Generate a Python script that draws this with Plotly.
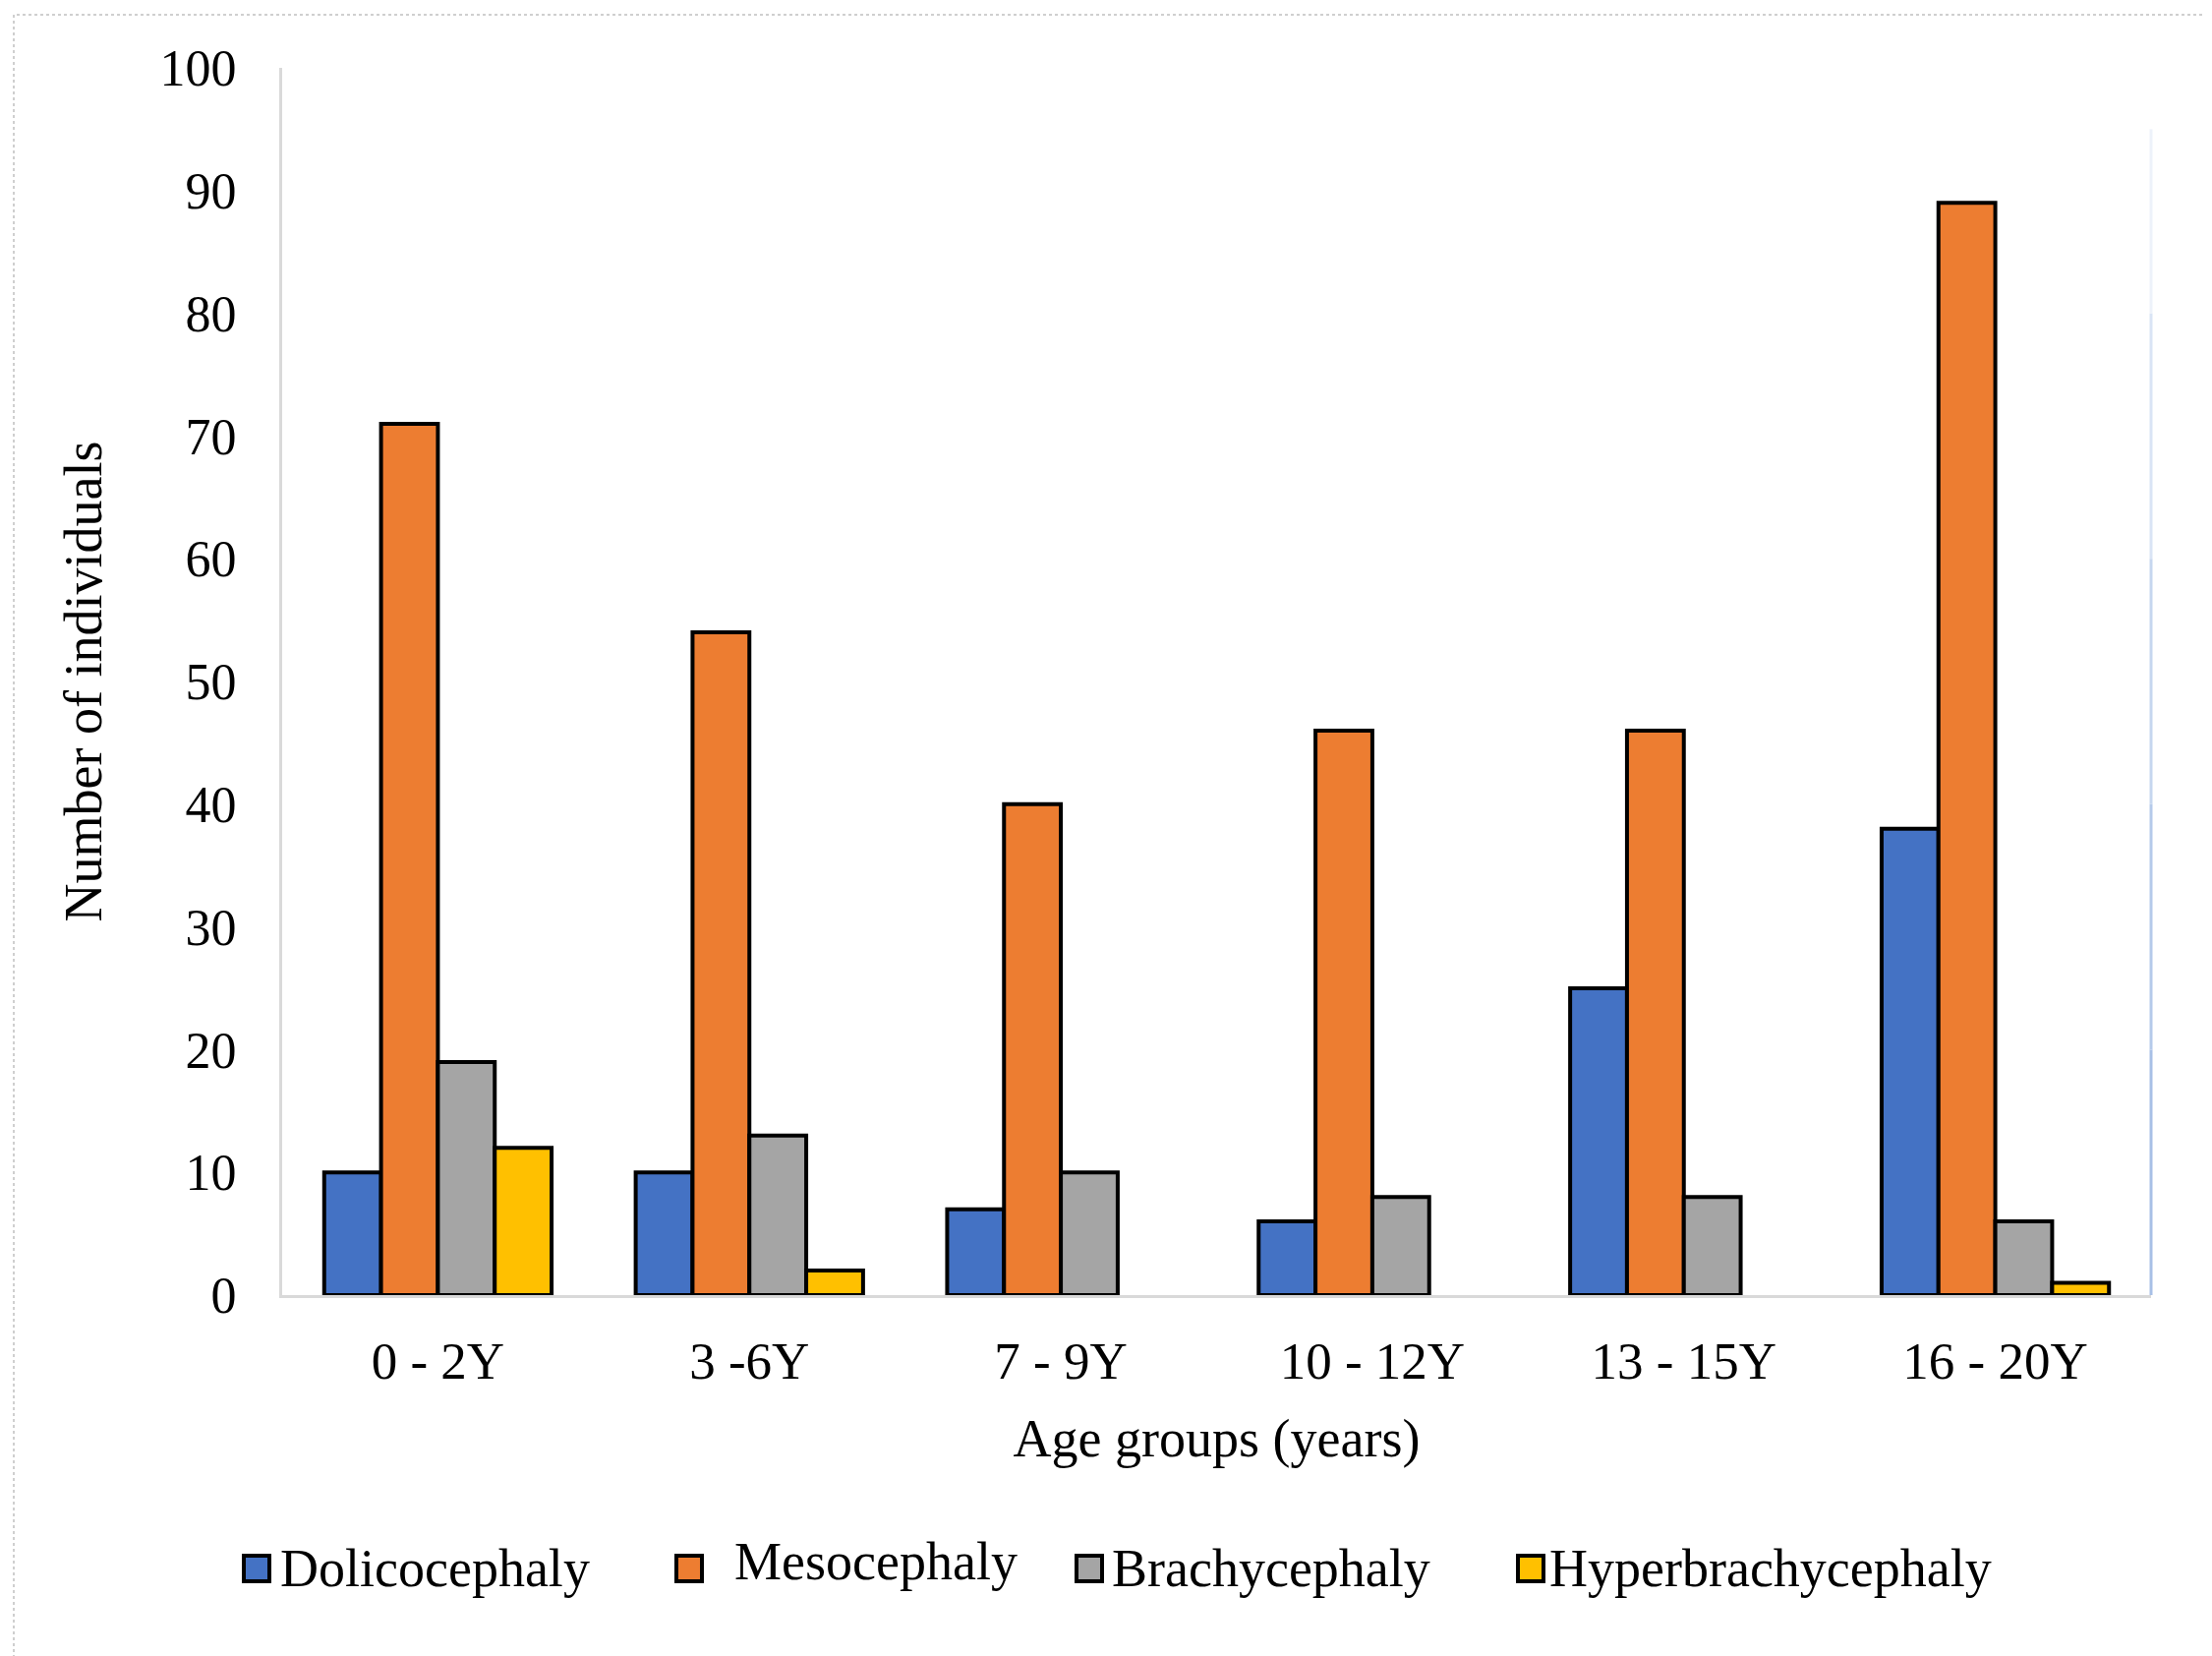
import plotly.graph_objects as go

categories = ["0 - 2Y", "3 -6Y", "7 - 9Y", "10 - 12Y", "13 - 15Y", "16 - 20Y"]
series_names = ["Dolicocephaly", "Mesocephaly", "Brachycephaly", "Hyperbrachycephaly"]
dolicocephaly = [10, 10, 7, 6, 25, 38]
mesocephaly = [71, 54, 40, 46, 46, 89]
brachycephaly = [19, 13, 10, 8, 8, 6]
hyperbrachycephaly = [12, 2, 0, 0, 0, 1]
y_ticks = [0, 10, 20, 30, 40, 50, 60, 70, 80, 90, 100]

colors = ["#4472C4", "#ED7D31", "#A5A5A5", "#FFC000"]
values = [dolicocephaly, mesocephaly, brachycephaly, hyperbrachycephaly]

FONT = "Liberation Serif, Times New Roman, serif"

W, H = 2250, 1684
L, R, T, B = 279, 70, 61, 375
pw, ph = W - L - R, H - T - B


def px_x(px):
    return (px - L) / pw


def px_y(py):
    return (H - B - py) / ph


fig = go.Figure()
for name, vals, col in zip(series_names, values, colors):
    fig.add_trace(go.Bar(
        x=categories, y=vals, name=name, showlegend=False,
        marker=dict(color=col,
                    line=dict(color="black", width=[4 if v > 0 else 0 for v in vals])),
    ))

fig.update_layout(
    width=W, height=H,
    margin=dict(l=L, r=R, t=T, b=B),
    paper_bgcolor="white", plot_bgcolor="white",
    font=dict(family=FONT, size=53, color="black"),
    barmode="group", bargap=0.27, bargroupgap=0,
    showlegend=False,
    xaxis=dict(
        type="category", range=[-0.5, 5.5],
        showline=True, linecolor="#D9D9D9", linewidth=3,
        ticks="", showgrid=False, zeroline=False,
        tickfont=dict(family=FONT, size=53),
        ticklabelstandoff=18,
        title=dict(text="Age groups (years)", font=dict(family=FONT, size=54), standoff=32),
    ),
    yaxis=dict(
        range=[0, 100], tickvals=y_ticks,
        showline=True, linecolor="#D9D9D9", linewidth=3,
        ticks="", showgrid=False, zeroline=False,
        tickfont=dict(family=FONT, size=52),
        ticklabelstandoff=33,
        title=dict(text="Number of individuals", font=dict(family=FONT, size=54), standoff=42),
    ),
)

# legend (swatch + label) below the chart
swatch_left = [240, 680, 1087, 1536]
text_left = [275, 737, 1121, 1566]
text_dy = [0, -7, 0, 0]
legend_y = 1587
sw = 26
for name, col, sx, tx, dy in zip(series_names, colors, swatch_left, text_left, text_dy):
    fig.add_shape(type="rect", xref="paper", yref="paper",
                  x0=px_x(sx), x1=px_x(sx + sw),
                  y0=px_y(legend_y + sw / 2), y1=px_y(legend_y - sw / 2),
                  fillcolor=col, line=dict(color="black", width=4))
    fig.add_annotation(text=name, xref="paper", yref="paper",
                       x=px_x(tx), y=px_y(legend_y + dy), xanchor="left", yanchor="middle",
                       showarrow=False, font=dict(family=FONT, size=54, color="black"))

# light blue right edge line of the plot area, fading towards the top
edge_segments = [(0.0, 0.2, "#A8C0E6"), (0.2, 0.4, "#B5CAEA"), (0.4, 0.6, "#C6D6EF"),
                 (0.6, 0.8, "#D9E4F5"), (0.8, 0.95, "#EDF2FA")]
for ya, yb, c in edge_segments:
    fig.add_shape(type="line", xref="paper", yref="paper", x0=1, x1=1, y0=ya, y1=yb,
                  line=dict(color=c, width=3), layer="above")

# dashed outer border of the figure
fig.add_shape(type="rect", xref="paper", yref="paper",
              x0=px_x(6), x1=px_x(W - 7), y0=px_y(H - 7), y1=px_y(7),
              line=dict(color="#CFCFCF", width=2, dash="dot"), layer="below")

fig.write_html("out.html")
